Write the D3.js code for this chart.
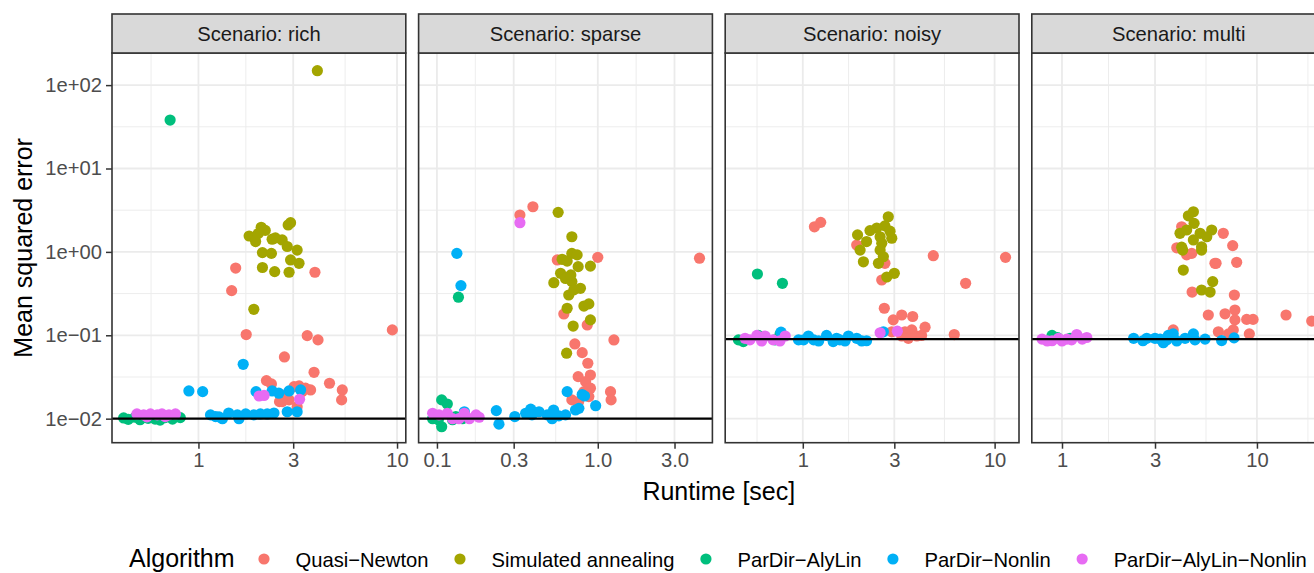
<!DOCTYPE html>
<html>
<head>
<meta charset="utf-8">
<title>Mean squared error vs runtime</title>
<style>
  body { margin: 0; background: #fff; }
  svg text { font-family: "Liberation Sans", Arial, sans-serif; }
  .grid-major { stroke: #EBEBEB; stroke-width: 1.8; }
  .grid-minor { stroke: #EBEBEB; stroke-width: 0.9; }
  .tick line { stroke: #333333; stroke-width: 1.5; }
  .tick text { fill: #4D4D4D; font-size: 20.2px; }
</style>
</head>
<body>
<script src="https://cdn.jsdelivr.net/npm/d3@7/dist/d3.min.js"></script>
<script>
// facets and algorithms
var scenarios = ["rich", "sparse", "noisy", "multi"];
var algorithms = ["Quasi\u2212Newton", "Simulated annealing", "ParDir\u2212AlyLin", "ParDir\u2212Nonlin", "ParDir\u2212AlyLin\u2212Nonlin"];
var colors = ["#F8766D", "#A3A500", "#00BF7D", "#00B0F6", "#E76BF3"];

// reference MSE (horizontal line) per scenario
var trueMse = [0.01, 0.01, 0.09, 0.09];

// x axis per panel (free scales)
var xBreaks = [[1, 3, 10], [0.1, 0.3, 1, 3], [1, 3, 10], [1, 3, 10]];
var xLabels = [["1", "3", "10"], ["0.1", "0.3", "1.0", "3.0"], ["1", "3", "10"], ["1", "3", "10"]];
var xDomains = [[0.367, 11.07], [0.0769, 5.16], [0.394, 13.4], [0.70, 22.5]];

var yBreaks = [0.01, 0.1, 1, 10, 100];
var yLabels = ["1e\u221202", "1e\u221201", "1e+00", "1e+01", "1e+02"];
var yDomain = [0.00515, 242.7];

// [runtime sec, mse]
var rich_qn = [[1.54,0.64],[1.47,0.343],[3.86,0.57],[1.74,0.102],[3.53,0.099],[4.0,0.088],[9.47,0.116],[2.71,0.055],[3.82,0.036],[4.57,0.0266],[5.30,0.0221],[5.26,0.0168],[2.20,0.0286],[2.33,0.0261],[3.03,0.0242],[3.21,0.0247],[3.46,0.0232],[3.67,0.0221],[2.64,0.016],[2.86,0.0168],[3.14,0.0139],[3.33,0.0211],[2.74,0.0192],[2.56,0.016]];
var rich_sa = [[3.97,149],[2.91,2.24],[2.83,2.10],[2.07,1.97],[2.17,1.81],[1.80,1.55],[1.94,1.33],[2.35,1.42],[2.64,1.39],[2.80,1.16],[3.14,1.05],[2.10,0.98],[2.33,0.96],[2.91,0.80],[3.21,0.73],[2.10,0.65],[2.42,0.58],[2.86,0.57],[1.90,0.205],[2.44,1.47],[2.0,1.66]];
var rich_aly = [[0.72,38.1],[0.42,0.0102],[0.443,0.0098],[0.48,0.0104],[0.508,0.0097],[0.558,0.0101],[0.605,0.0099],[0.641,0.0096],[0.679,0.0103],[0.74,0.0099],[0.78,0.0106],[0.81,0.0103]];
var rich_non = [[0.895,0.0215],[1.05,0.0211],[1.68,0.0449],[1.95,0.0211],[2.35,0.0215],[2.54,0.0202],[2.86,0.0215],[3.27,0.0221],[2.80,0.0121],[3.14,0.0121],[1.15,0.0111],[1.27,0.0105],[1.42,0.0117],[1.57,0.0111],[1.73,0.0114],[1.90,0.0111],[2.05,0.0114],[2.22,0.0114],[2.40,0.0117],[1.22,0.0106],[1.32,0.0100],[1.60,0.0100]];
var rich_both = [[2.02,0.0187],[2.14,0.019],[3.23,0.0171],[0.49,0.0114],[0.53,0.0111],[0.573,0.0114],[0.62,0.0111],[0.655,0.0114],[0.71,0.0111],[0.766,0.0114],[0.55,0.0105],[0.68,0.0106]];

var sparse_qn = [[0.395,3.48],[0.328,2.77],[0.56,0.80],[1.0,0.86],[4.29,0.84],[0.615,0.18],[0.86,0.133],[1.26,0.0879],[0.72,0.0787],[0.80,0.0619],[0.867,0.0462],[0.90,0.0334],[0.755,0.0319],[0.84,0.0278],[1.20,0.0211],[1.21,0.0168],[0.69,0.0168],[0.82,0.0211],[0.88,0.0184],[0.76,0.016],[0.90,0.0232]];
var sparse_sa = [[0.567,2.98],[0.69,1.52],[0.69,0.96],[0.744,0.92],[0.60,0.815],[0.645,0.775],[0.755,0.665],[0.90,0.675],[0.587,0.554],[0.63,0.48],[0.533,0.427],[0.69,0.44],[0.78,0.366],[0.66,0.304],[0.82,0.224],[0.88,0.238],[0.645,0.211],[0.90,0.153],[0.703,0.129],[0.64,0.061],[0.71,0.35],[0.68,0.53]];
var sparse_aly = [[0.136,0.286],[0.107,0.0168],[0.116,0.0150],[0.107,0.0080],[0.094,0.010],[0.102,0.0097],[0.125,0.0097],[0.131,0.0106],[0.144,0.010]];
var sparse_non = [[0.133,0.96],[0.141,0.394],[0.148,0.0121],[0.234,0.0125],[0.243,0.0086],[0.305,0.0106],[0.356,0.0116],[0.383,0.0130],[0.431,0.0121],[0.485,0.0111],[0.531,0.0127],[0.573,0.0108],[0.63,0.0111],[0.645,0.0211],[0.727,0.0127],[0.763,0.0133],[0.827,0.0187],[0.97,0.0143],[0.52,0.0100],[0.39,0.0111],[0.80,0.0195]];
var sparse_both = [[0.328,2.24],[0.094,0.0116],[0.103,0.0111],[0.116,0.0116],[0.125,0.0100],[0.148,0.0116],[0.159,0.0100],[0.175,0.0111],[0.183,0.0104],[0.137,0.0100]];

var noisy_qn = [[1.15,2.0],[1.24,2.26],[1.91,1.21],[2.68,0.73],[2.58,0.46],[4.79,0.90],[11.4,0.86],[7.06,0.42],[2.66,0.211],[2.96,0.153],[3.28,0.175],[3.74,0.168],[4.34,0.125],[6.16,0.102],[3.41,0.110],[3.70,0.116],[3.28,0.098],[3.55,0.092],[3.93,0.098],[4.16,0.0995],[2.91,0.110]];
var noisy_sa = [[2.79,2.64],[2.68,2.05],[2.43,1.93],[2.24,1.80],[1.93,1.60],[2.15,1.33],[2.53,1.52],[2.91,1.46],[2.85,1.77],[2.58,1.27],[1.99,1.05],[2.53,1.05],[2.63,0.875],[2.07,0.76],[2.48,0.73],[2.74,0.50],[3.0,0.554]];
var noisy_aly = [[0.58,0.543],[0.783,0.42],[0.462,0.088],[0.49,0.084],[0.587,0.0995],[0.762,0.104],[0.717,0.088]];
var noisy_non = [[0.77,0.109],[0.95,0.088],[1.07,0.098],[1.21,0.0855],[1.33,0.0995],[1.44,0.084],[1.56,0.088],[1.73,0.098],[1.91,0.092],[2.15,0.086],[1.01,0.088],[1.14,0.088],[1.50,0.092],[1.66,0.0855],[2.03,0.0855],[2.63,0.110]];
var noisy_both = [[0.50,0.092],[0.576,0.0995],[0.636,0.098],[0.70,0.088],[0.81,0.098],[0.53,0.088],[0.61,0.0855],[0.76,0.0855],[2.53,0.107],[3.11,0.112]];

var multi_qn = [[4.11,2.0],[3.88,1.12],[4.36,0.92],[6.72,1.67],[7.51,1.19],[6.17,0.73],[7.87,0.75],[4.63,0.96],[6.09,0.73],[4.65,0.33],[7.66,0.304],[5.63,0.175],[6.86,0.181],[7.71,0.201],[7.71,0.153],[8.86,0.155],[9.55,0.155],[14.1,0.175],[19.1,0.148],[6.34,0.110],[7.56,0.116],[9.14,0.104],[3.72,0.116],[7.15,0.104]];
var multi_sa = [[4.72,3.03],[4.45,2.71],[4.76,2.20],[4.03,1.67],[4.36,1.83],[5.11,1.67],[5.86,1.83],[5.53,1.52],[4.11,1.14],[5.20,1.15],[4.72,1.39],[4.19,0.606],[5.93,0.44],[5.20,0.349],[5.75,0.33],[4.16,1.05],[5.20,1.05]];
var multi_aly = [[0.889,0.0995],[0.87,0.088],[1.10,0.092],[0.95,0.0935]];
var multi_non = [[2.33,0.092],[2.60,0.086],[3.0,0.092],[3.31,0.0815],[3.51,0.0995],[3.72,0.104],[3.88,0.0855],[4.28,0.092],[4.72,0.104],[4.81,0.088],[5.42,0.090],[6.59,0.0865],[7.63,0.093],[3.19,0.090],[2.72,0.092],[3.45,0.088]];
var multi_both = [[0.79,0.090],[0.889,0.086],[0.96,0.092],[1.06,0.090],[1.19,0.102],[1.27,0.090],[1.34,0.094],[1.12,0.088],[1.0,0.0855],[0.84,0.0855]];

var panelData = [
  [rich_qn, rich_sa, rich_aly, rich_non, rich_both],
  [sparse_qn, sparse_sa, sparse_aly, sparse_non, sparse_both],
  [noisy_qn, noisy_sa, noisy_aly, noisy_non, noisy_both],
  [multi_qn, multi_sa, multi_aly, multi_non, multi_both]
];

var width = 1314, height = 573;
var panelTop = 53, panelBottom = 442.7, stripTop = 14;
var panelW = 293.8, panelStep = 306.6, firstLeft = 112;
var tickLen = 6;
var smallFont = '20.2px', bigFont = '25px';

var svg = d3.select('body').append('svg')
  .attr('width', width).attr('height', height);

var y = d3.scaleLog().domain(yDomain).range([panelBottom, panelTop]);

// ggplot style minor breaks: midpoints between majors in log space
function minorBreaks(majors, domain) {
  var b = majors.filter(function(v){ return v >= domain[0] && v <= domain[1]; })
    .map(function(v){ return Math.log10(v); });
  var lim = domain.map(function(v){ return Math.log10(v); });
  if (lim[0] < b[0]) b.unshift(b[0] - (b[1] - b[0]));
  var n = b.length;
  if (lim[1] > b[n - 1]) b.push(b[n - 1] + (b[n - 1] - b[n - 2]));
  var out = [];
  for (var i = 0; i < b.length - 1; i++) {
    var m = (b[i] + b[i + 1]) / 2;
    if (m > lim[0] && m < lim[1]) out.push(Math.pow(10, m));
  }
  return out;
}

var yMinor = minorBreaks(yBreaks, yDomain);
var defs = svg.append('defs');

scenarios.forEach(function(sc, p) {
  var left = firstLeft + p * panelStep;
  var x = d3.scaleLog().domain(xDomains[p]).range([left, left + panelW]);
  var xMinor = minorBreaks(xBreaks[p], xDomains[p]);

  defs.append('clipPath').attr('id', 'clip' + p)
    .append('rect').attr('x', left).attr('y', panelTop)
    .attr('width', panelW).attr('height', panelBottom - panelTop);

  var g = svg.append('g');

  // grid
  g.selectAll('.ym').data(yMinor).enter().append('line')
    .attr('class', 'grid-minor')
    .attr('x1', left).attr('x2', left + panelW)
    .attr('y1', function(d){ return y(d); }).attr('y2', function(d){ return y(d); });
  g.selectAll('.xm').data(xMinor).enter().append('line')
    .attr('class', 'grid-minor')
    .attr('y1', panelTop).attr('y2', panelBottom)
    .attr('x1', function(d){ return x(d); }).attr('x2', function(d){ return x(d); });
  g.selectAll('.yM').data(yBreaks).enter().append('line')
    .attr('class', 'grid-major')
    .attr('x1', left).attr('x2', left + panelW)
    .attr('y1', function(d){ return y(d); }).attr('y2', function(d){ return y(d); });
  g.selectAll('.xM').data(xBreaks[p]).enter().append('line')
    .attr('class', 'grid-major')
    .attr('y1', panelTop).attr('y2', panelBottom)
    .attr('x1', function(d){ return x(d); }).attr('x2', function(d){ return x(d); });

  // points, one layer per algorithm
  var pts = svg.append('g').attr('clip-path', 'url(#clip' + p + ')');
  panelData[p].forEach(function(series, a) {
    pts.selectAll('.pt' + a).data(series).enter().append('circle')
      .attr('cx', function(d){ return x(d[0]); })
      .attr('cy', function(d){ return y(d[1]); })
      .attr('r', 5.6)
      .attr('fill', colors[a]);
  });

  // reference line
  pts.append('line')
    .attr('x1', left).attr('x2', left + panelW)
    .attr('y1', y(trueMse[p])).attr('y2', y(trueMse[p]))
    .attr('stroke', '#000').attr('stroke-width', 2.2);

  // panel border
  svg.append('rect')
    .attr('x', left).attr('y', panelTop)
    .attr('width', panelW).attr('height', panelBottom - panelTop)
    .attr('fill', 'none').attr('stroke', '#333333').attr('stroke-width', 1.6);

  // strip
  svg.append('rect')
    .attr('x', left).attr('y', stripTop)
    .attr('width', panelW).attr('height', panelTop - stripTop)
    .attr('fill', '#D9D9D9').attr('stroke', '#333333').attr('stroke-width', 1.6);
  svg.append('text')
    .attr('x', left + panelW / 2).attr('y', (stripTop + panelTop) / 2)
    .attr('dy', '0.35em').attr('text-anchor', 'middle')
    .attr('fill', '#1A1A1A').style('font-size', smallFont)
    .text('Scenario: ' + sc);

  // x axis
  var xAxis = d3.axisBottom(x)
    .tickValues(xBreaks[p])
    .tickFormat(function(d, i){ return xLabels[p][i]; })
    .tickSize(tickLen).tickPadding(4);
  svg.append('g')
    .attr('transform', 'translate(0,' + panelBottom + ')')
    .call(xAxis)
    .call(function(s){ s.select('.domain').remove(); });

  // y axis only on first panel
  if (p === 0) {
    var yAxis = d3.axisLeft(y)
      .tickValues(yBreaks)
      .tickFormat(function(d, i){ return yLabels[i]; })
      .tickSize(tickLen).tickPadding(4);
    svg.append('g')
      .attr('transform', 'translate(' + left + ',0)')
      .call(yAxis)
      .call(function(s){ s.select('.domain').remove(); });
  }
});

svg.selectAll('.tick text').attr('font-family', null);

// axis titles
var lastRight = firstLeft + 3 * panelStep + panelW;
svg.append('text')
  .attr('x', (firstLeft + lastRight) / 2).attr('y', 500)
  .attr('text-anchor', 'middle').style('font-size', bigFont).attr('fill', '#000')
  .text('Runtime [sec]');
svg.append('text')
  .attr('transform', 'translate(31.5,' + (panelTop + panelBottom) / 2 + ') rotate(-90)')
  .attr('text-anchor', 'middle').style('font-size', bigFont).attr('fill', '#000')
  .text('Mean squared error');

// legend along the bottom (nudged up so descenders stay on the page)
var legend = svg.append('g');
legend.append('text')
  .attr('x', 129).attr('y', 566.5)
  .style('font-size', bigFont).attr('fill', '#000')
  .text('Algorithm');
var cx = 264;
algorithms.forEach(function(name, a) {
  legend.append('circle').attr('cx', cx).attr('cy', 559).attr('r', 5.6).attr('fill', colors[a]);
  var t = legend.append('text')
    .attr('x', cx + 31.5).attr('y', 566.5)
    .style('font-size', smallFont).attr('fill', '#000')
    .text(name);
  cx = cx + 31.5 + t.node().getComputedTextLength() + 31.5;
});
</script>
</body>
</html>
